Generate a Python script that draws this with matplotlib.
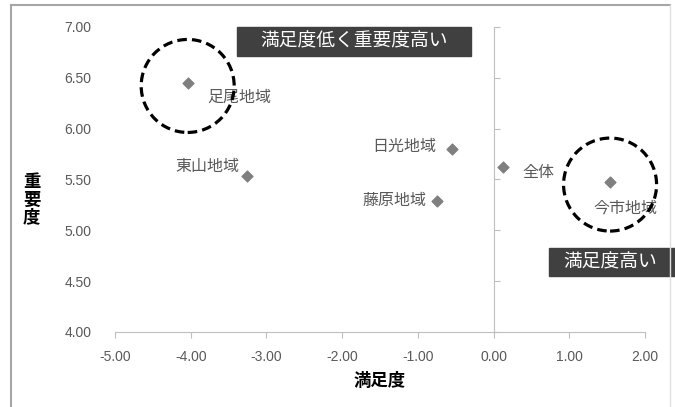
import matplotlib.pyplot as plt
from matplotlib.patches import Ellipse, Rectangle
from matplotlib.lines import Line2D

plt.rcParams['font.family'] = ['Noto Sans CJK JP', 'DejaVu Sans']

# ─────────────────────────────
# Data
# ─────────────────────────────
areas = ['足尾地域', '東山地域', '日光地域', '藤原地域', '全体', '今市地域']
satisfaction = [-4.04, -3.25, -0.55, -0.74, 0.12, 1.54]
importance = [6.45, 5.53, 5.80, 5.29, 5.62, 5.48]
# label offsets in points and alignment
offsets = [(14, -10, 'left'), (-6, 7, 'right'), (-11, 2, 'right'),
           (-8, 0, 'right'), (14, -4, 'left'), (-12, -19, 'left')]
circled = ['足尾地域', '今市地域']

xticks = [-5, -4, -3, -2, -1, 0, 1, 2]
yticks = [4.0, 4.5, 5.0, 5.5, 6.0, 6.5, 7.0]

grey_axis = '#bfbfbf'
grey_text = '#595959'

fig = plt.figure(figsize=(6.75, 4.07), dpi=100)
ax = fig.add_axes([0.1704, 0.1843, 0.785, 0.7494])
ax.set_xlim(-5, 2)
ax.set_ylim(4, 7)

ax.scatter(satisfaction, importance, marker='D', s=30, color='#7f7f7f', zorder=3)

for name, x, y, (dx, dy, ha) in zip(areas, satisfaction, importance, offsets):
    ax.annotate(name, (x, y), xytext=(dx, dy), textcoords='offset points',
                ha=ha, va='center', fontsize=11.5, color=grey_text)

# dashed circles (round on screen)
px_x = 0.785 * 675 / 7
px_y = 0.7494 * 407 / 3
for name in circled:
    i = areas.index(name)
    cx, cy = satisfaction[i], importance[i] - 0.03
    ax.add_patch(Ellipse((cx, cy), 93 / px_x, 93 / px_y, fill=False,
                         ls=(0, (3, 1.6)), lw=2.3, color='black',
                         clip_on=False, zorder=4))

# axes styling: x axis at y=4, vertical axis at x=0
for s in ['top', 'right', 'left']:
    ax.spines[s].set_visible(False)
ax.spines['bottom'].set_color(grey_axis)
ax.set_xticks(xticks)
ax.set_xticklabels([f'{v:.2f}' for v in xticks], family='Liberation Sans',
                   fontsize=10, color=grey_text)
ax.tick_params(axis='x', direction='out', length=4, color=grey_axis, pad=9)

ax.set_yticks(yticks)
ax.set_yticklabels([f'{v:.2f}' for v in yticks], family='Liberation Sans',
                   fontsize=10, color=grey_text)
ax.tick_params(axis='y', length=0, pad=17)

sec = ax.secondary_yaxis(5 / 7)
sec.set_yticks(yticks)
sec.set_yticklabels([])
for sp in sec.spines.values():
    sp.set_color(grey_axis)
sec.tick_params(axis='y', direction='out', length=4, color=grey_axis)

ax.set_xlabel('満足度', fontsize=12.5, fontweight='bold', labelpad=6)
fig.text(0.047, 0.51, '重\n要\n度', fontsize=12.5, fontweight='bold',
         ha='center', va='center', linespacing=0.95)

# quadrant boxes
ax.add_patch(Rectangle((0.2300, 0.9056), 0.4425, 0.0944, transform=ax.transAxes,
                       color='#404040', clip_on=False, zorder=5))
ax.text(0.4512, 0.9528, '満足度低く重要度高い', transform=ax.transAxes,
        ha='center', va='center', color='white', fontsize=13.5, zorder=6)
ax.add_patch(Rectangle((0.8189, 0.1822), 0.2500, 0.0918, transform=ax.transAxes,
                       color='#404040', clip_on=False, zorder=5))
ax.text(0.9340, 0.2281, '満足度高い', transform=ax.transAxes,
        ha='center', va='center', color='white', fontsize=13.5, zorder=6)

# outer frame
fc = '#a6a6a6'
fig.add_artist(Line2D([0.016, 0.016], [0, 0.988], color=fc, lw=1.5))
fig.add_artist(Line2D([0.016, 0.993], [0.988, 0.988], color=fc, lw=1.5))
fig.add_artist(Line2D([0.993, 0.993], [0, 0.988], color='#e0e0e0', lw=1))

fig.savefig('out.png', dpi=100)
